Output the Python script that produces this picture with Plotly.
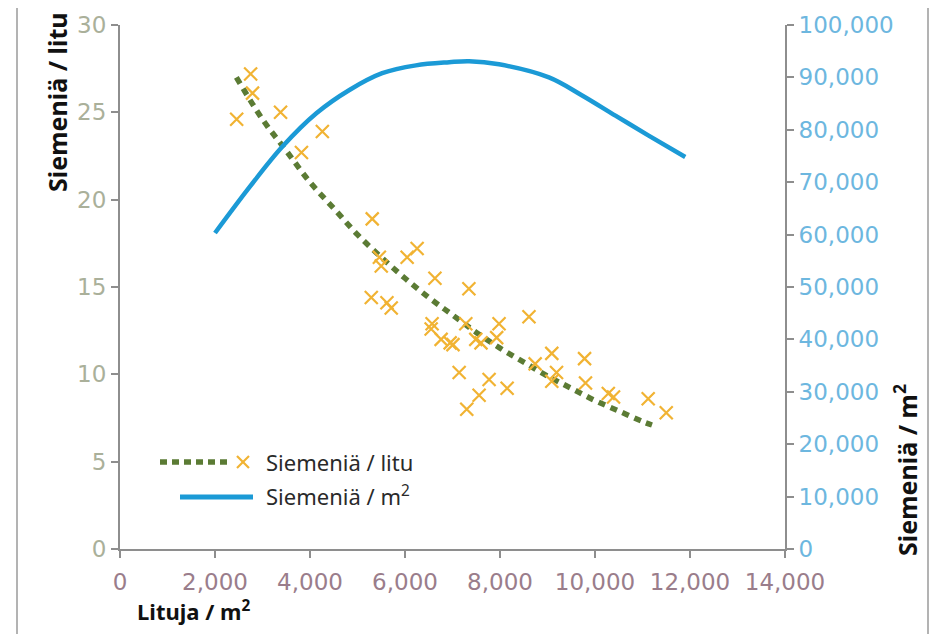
import plotly.graph_objects as go

# ---- data ----
seed_x = [2456, 2750, 2790, 3380, 3820, 4260, 5310, 5460, 5500, 5290, 5620, 5710,
          6045, 6255, 6630, 7345, 6570, 6550, 6760, 6950, 7010, 7280, 7490, 7600,
          7980, 7930, 8610, 7140, 7770, 8150, 7560, 7300, 8740, 9090, 9190, 9090,
          9780, 9800, 10280, 10390, 11120, 11500]
seed_y = [24.6, 27.2, 26.1, 25.0, 22.7, 23.9, 18.9, 16.7, 16.2, 14.4, 14.1, 13.8,
          16.7, 17.2, 15.5, 14.9, 12.9, 12.6, 12.0, 11.8, 11.7, 12.9, 12.0, 11.8,
          12.9, 12.1, 13.3, 10.1, 9.7, 9.2, 8.8, 8.0, 10.6, 11.2, 10.1, 9.6,
          10.9, 9.5, 8.9, 8.7, 8.6, 7.8]

trend_x = [2450, 3000, 3500, 4000, 4500, 5000, 5500, 6000, 6500, 7000, 7500,
           8000, 8500, 9000, 9500, 10000, 10500, 11000, 11200]
trend_y = [27.0, 24.6, 22.8, 21.0, 19.5, 18.0, 16.7, 15.5, 14.4, 13.4, 12.4,
           11.5, 10.7, 9.9, 9.2, 8.5, 7.9, 7.3, 7.1]

m2_x = [2000, 2730, 3420, 4140, 4830, 5520, 6230, 6930, 7350, 7980, 9030,
        9720, 10430, 11130, 11900]
m2_y = [60300, 69100, 76800, 83200, 87600, 90800, 92300, 92900, 93100, 92500,
        90000, 86600, 82700, 78900, 74800]

x_ticks = [0, 2000, 4000, 6000, 8000, 10000, 12000, 14000]
y_ticks = [0, 5, 10, 15, 20, 25, 30]
y2_ticks = [0, 10000, 20000, 30000, 40000, 50000, 60000, 70000, 80000, 90000, 100000]

name_litu = "Siemeniä / litu"
name_m2 = "Siemeniä / m<sup>2</sup>"
x_title = "Lituja / m<sup>2</sup>"

# ---- styles ----
GREEN = "#5b7b34"
ORANGE = "#f1b333"
BLUE = "#1b9ad6"
AXIS = "#8e8e8e"
TICKFONT = "DejaVu Sans"
TITLEFONT = "Noto Sans"

fig = go.Figure()
fig.add_trace(go.Scatter(x=m2_x, y=m2_y, mode="lines", yaxis="y2",
                         line=dict(color=BLUE, width=4.5, shape="spline"),
                         showlegend=False))
fig.add_trace(go.Scatter(x=trend_x, y=trend_y, mode="lines",
                         line=dict(color=GREEN, width=5.5, dash="7px,6px", shape="spline"),
                         showlegend=False))
fig.add_trace(go.Scatter(x=seed_x, y=seed_y, mode="markers",
                         marker=dict(symbol="x-thin", size=13,
                                     line=dict(color=ORANGE, width=2.2)),
                         showlegend=False))

# page body adds an 8px offset; work in screenshot coordinates
OFF = 8
W, H = 945 - OFF, 634 - OFF
PX0, PX1, PY0, PY1 = 120, 785, 25, 549   # plot area in screenshot pixels
L, R = PX0 - OFF, W - (PX1 - OFF)
T, B = PY0 - OFF, H - (PY1 - OFF)
pw, ph = PX1 - PX0, PY1 - PY0


def px(xs):
    return (xs - PX0) / pw


def py(ys):
    return (PY1 - ys) / ph


shapes = [
    # outer frame lines
    dict(type="line", xref="paper", yref="paper", x0=px(17), x1=px(17), y0=py(640), y1=py(0),
         line=dict(color="#9a9a9a", width=1.5)),
    dict(type="line", xref="paper", yref="paper", x0=px(928), x1=px(928), y0=py(640), y1=py(0),
         line=dict(color="#9a9a9a", width=1.5)),
    # legend symbols
    dict(type="line", xref="paper", yref="paper", x0=px(160), x1=px(229), y0=py(462), y1=py(462),
         line=dict(color=GREEN, width=5.5, dash="7px,5px")),
    dict(type="line", xref="paper", yref="paper", x0=px(237), x1=px(249), y0=py(456), y1=py(468),
         line=dict(color=ORANGE, width=2.2)),
    dict(type="line", xref="paper", yref="paper", x0=px(237), x1=px(249), y0=py(468), y1=py(456),
         line=dict(color=ORANGE, width=2.2)),
    dict(type="line", xref="paper", yref="paper", x0=px(180), x1=px(253), y0=py(497), y1=py(497),
         line=dict(color=BLUE, width=5)),
]

annotations = [
    dict(text=name_litu, xref="paper", yref="paper", x=px(264), y=py(462),
         xanchor="left", yanchor="middle", showarrow=False,
         font=dict(family=TITLEFONT, size=22, color="#2a2a2a")),
    dict(text=name_m2, xref="paper", yref="paper", x=px(264), y=py(495),
         xanchor="left", yanchor="middle", showarrow=False,
         font=dict(family=TITLEFONT, size=22, color="#2a2a2a")),
    dict(text="<b>" + name_litu + "</b>", xref="paper", yref="paper", x=px(57), y=py(10),
         xanchor="center", yanchor="top", textangle=-90, showarrow=False,
         font=dict(family=TITLEFONT, size=25, color="#111111")),
    dict(text="<b>" + name_m2 + "</b>", xref="paper", yref="paper", x=px(905), y=py(558),
         xanchor="center", yanchor="bottom", textangle=-90, showarrow=False,
         font=dict(family=TITLEFONT, size=25, color="#111111")),
    dict(text="<b>" + x_title + "</b>", xref="paper", yref="paper", x=px(135), y=py(610),
         xanchor="left", yanchor="middle", showarrow=False,
         font=dict(family=TITLEFONT, size=22, color="#111111")),
]

axis_common = dict(showgrid=False, zeroline=False, showline=True, linecolor=AXIS,
                   linewidth=2, ticks="outside", ticklen=7, tickwidth=2, tickcolor=AXIS)

fig.update_layout(
    width=W, height=H,
    margin=dict(l=L, r=R, t=T, b=B, autoexpand=False),
    paper_bgcolor="white", plot_bgcolor="white",
    showlegend=False,
    xaxis=dict(range=[0, 14000], tickvals=x_ticks, tickformat=",",
               tickfont=dict(family=TICKFONT, size=23, color="#9a7d8b"),
               ticklabelstandoff=4, **axis_common),
    yaxis=dict(range=[0, 30], tickvals=y_ticks,
               tickfont=dict(family=TICKFONT, size=23, color="#aab09a"),
               **axis_common),
    yaxis2=dict(range=[0, 100000], tickvals=y2_ticks, tickformat=",",
                overlaying="y", side="right",
                tickfont=dict(family=TICKFONT, size=23, color="#6db7df"),
                **axis_common),
    shapes=shapes,
    annotations=annotations,
)

fig.write_html("out.html")
